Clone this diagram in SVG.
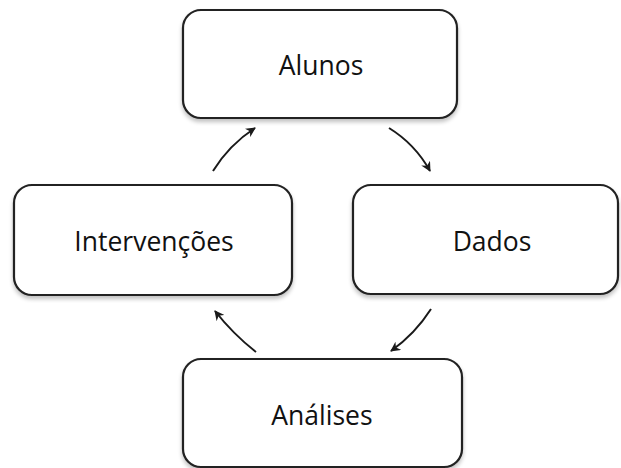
<svg xmlns="http://www.w3.org/2000/svg" width="621" height="468" viewBox="0 0 621 468">
  <defs>
    <filter id="sh" x="-10%" y="-10%" width="120%" height="130%">
      <feGaussianBlur in="SourceAlpha" stdDeviation="2"/>
      <feOffset dx="0" dy="3" result="b"/>
      <feComponentTransfer><feFuncA type="linear" slope="0.25"/></feComponentTransfer>
      <feMerge><feMergeNode/><feMergeNode in="SourceGraphic"/></feMerge>
    </filter>
    <marker id="ah" viewBox="0 0 10 10" refX="9" refY="5" markerWidth="10" markerHeight="10" markerUnits="userSpaceOnUse" orient="auto">
      <path d="M0,0 L10,5 L0,10 L3,5 Z" fill="#1a1a1a"/>
    </marker>
  </defs>
  <style>
    .box { fill: #ffffff; stroke: #222222; stroke-width: 2.2; filter: url(#sh); }
    .lbl { font-family: "Open Sans", "Liberation Sans", sans-serif; font-size: 26.5px; fill: #111111; text-anchor: middle; }
    .conn { fill: none; stroke: #1a1a1a; stroke-width: 2; marker-end: url(#ah); }
  </style>
  <rect width="621" height="468" fill="#ffffff"/>
  <g id="alunos">
    <rect class="box" x="183" y="10" width="274" height="108" rx="18"/>
    <text class="lbl" x="321" y="75">Alunos</text>
  </g>
  <g id="dados">
    <rect class="box" x="353" y="185" width="265" height="109" rx="18"/>
    <text class="lbl" x="492" y="251">Dados</text>
  </g>
  <g id="intervencoes">
    <rect class="box" x="14" y="185" width="278" height="110" rx="18"/>
    <text class="lbl" x="154" y="251">Intervenções</text>
  </g>
  <g id="analises">
    <rect class="box" x="183" y="359" width="279" height="108" rx="18"/>
    <text class="lbl" x="322" y="425">Análises</text>
  </g>
  <g id="connectors">
    <path class="conn" d="M213,171 Q229,145 255,128"/>
    <path class="conn" d="M389,128 Q415,144 430,171"/>
    <path class="conn" d="M431,309 Q415,334 391,351"/>
    <path class="conn" d="M256,352 Q233,334 215,311"/>
  </g>
</svg>
